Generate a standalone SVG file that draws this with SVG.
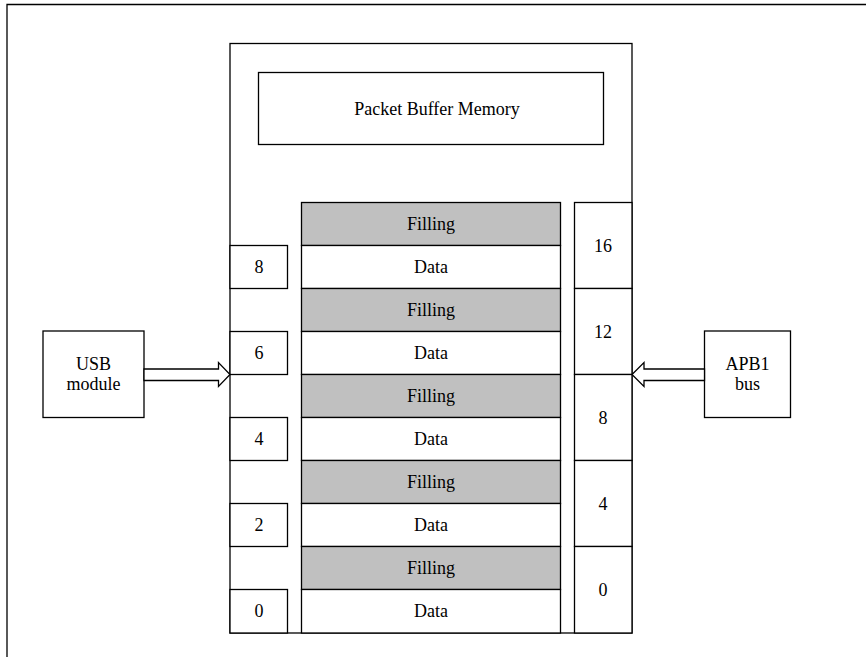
<svg xmlns="http://www.w3.org/2000/svg" width="866" height="657" viewBox="0 0 866 657">
<style>
.b{fill:#fff;stroke:#000;stroke-width:1.3}
.f{fill:#c0c0c0;stroke:#000;stroke-width:1.3}
.t{font-family:"Liberation Serif","Times New Roman",serif;font-size:18px;fill:#000;text-anchor:middle}
.ar{fill:#fff;stroke:#000;stroke-width:1.3;stroke-linejoin:miter}
</style>
<rect width="866" height="657" fill="#fff"/>
<path d="M7,657 V4.5 H866" fill="none" stroke="#000" stroke-width="1.3"/>
<g id="main"><rect class="b" x="230" y="43.5" width="402" height="589.5"/></g>
<g id="pbm"><rect class="b" x="258.5" y="72.5" width="345" height="72"/><text class="t" x="437" y="114.5">Packet Buffer Memory</text></g>
<g id="rows">
<g id="f1"><rect class="f" x="301.5" y="202.5" width="259" height="43"/><text class="t" x="431" y="229.5">Filling</text></g>
<g id="d1"><rect class="b" x="301.5" y="245.5" width="259" height="43"/><text class="t" x="431" y="272.5">Data</text></g>
<g id="f2"><rect class="f" x="301.5" y="288.5" width="259" height="43"/><text class="t" x="431" y="315.5">Filling</text></g>
<g id="d2"><rect class="b" x="301.5" y="331.5" width="259" height="43"/><text class="t" x="431" y="358.5">Data</text></g>
<g id="f3"><rect class="f" x="301.5" y="374.5" width="259" height="43"/><text class="t" x="431" y="401.5">Filling</text></g>
<g id="d3"><rect class="b" x="301.5" y="417.5" width="259" height="43"/><text class="t" x="431" y="444.5">Data</text></g>
<g id="f4"><rect class="f" x="301.5" y="460.5" width="259" height="43"/><text class="t" x="431" y="487.5">Filling</text></g>
<g id="d4"><rect class="b" x="301.5" y="503.5" width="259" height="43"/><text class="t" x="431" y="530.5">Data</text></g>
<g id="f5"><rect class="f" x="301.5" y="546.5" width="259" height="43"/><text class="t" x="431" y="573.5">Filling</text></g>
<g id="d5"><rect class="b" x="301.5" y="589.5" width="259" height="43.5"/><text class="t" x="431" y="616.5">Data</text></g>
</g>
<g id="left">
<g id="l8"><rect class="b" x="230" y="245.5" width="57.5" height="43"/><text class="t" x="259" y="272.5">8</text></g>
<g id="l6"><rect class="b" x="230" y="331.5" width="57.5" height="43"/><text class="t" x="259" y="358.5">6</text></g>
<g id="l4"><rect class="b" x="230" y="417.5" width="57.5" height="43"/><text class="t" x="259" y="444.5">4</text></g>
<g id="l2"><rect class="b" x="230" y="503.5" width="57.5" height="43"/><text class="t" x="259" y="530.5">2</text></g>
<g id="l0"><rect class="b" x="230" y="589.5" width="57.5" height="43.5"/><text class="t" x="259" y="616.5">0</text></g>
</g>
<g id="right">
<g id="r16"><rect class="b" x="574.5" y="202.5" width="57.5" height="86"/><text class="t" x="603" y="251.5">16</text></g>
<g id="r12"><rect class="b" x="574.5" y="288.5" width="57.5" height="86"/><text class="t" x="603" y="337.5">12</text></g>
<g id="r8"><rect class="b" x="574.5" y="374.5" width="57.5" height="86"/><text class="t" x="603" y="423.5">8</text></g>
<g id="r4"><rect class="b" x="574.5" y="460.5" width="57.5" height="86"/><text class="t" x="603" y="509.5">4</text></g>
<g id="r0"><rect class="b" x="574.5" y="546.5" width="57.5" height="86.5"/><text class="t" x="603" y="595.5">0</text></g>
</g>
<g id="usb"><rect class="b" x="43" y="331" width="101" height="86.5"/><text class="t" x="93.5" y="369.5">USB</text><text class="t" x="93.5" y="390">module</text></g>
<g id="apb1"><rect class="b" x="704.5" y="331" width="86" height="86.5"/><text class="t" x="747.5" y="369.5">APB1</text><text class="t" x="747.5" y="390">bus</text></g>
<g id="connectors">
<path class="ar" d="M144,369 H218.5 V362.5 L230,374.5 L218.5,386.5 V380.5 H144 Z"/>
<path class="ar" d="M704.5,369 H644 V362.5 L632,374.5 L644,386.5 V380.5 H704.5 Z"/>
</g>
</svg>
